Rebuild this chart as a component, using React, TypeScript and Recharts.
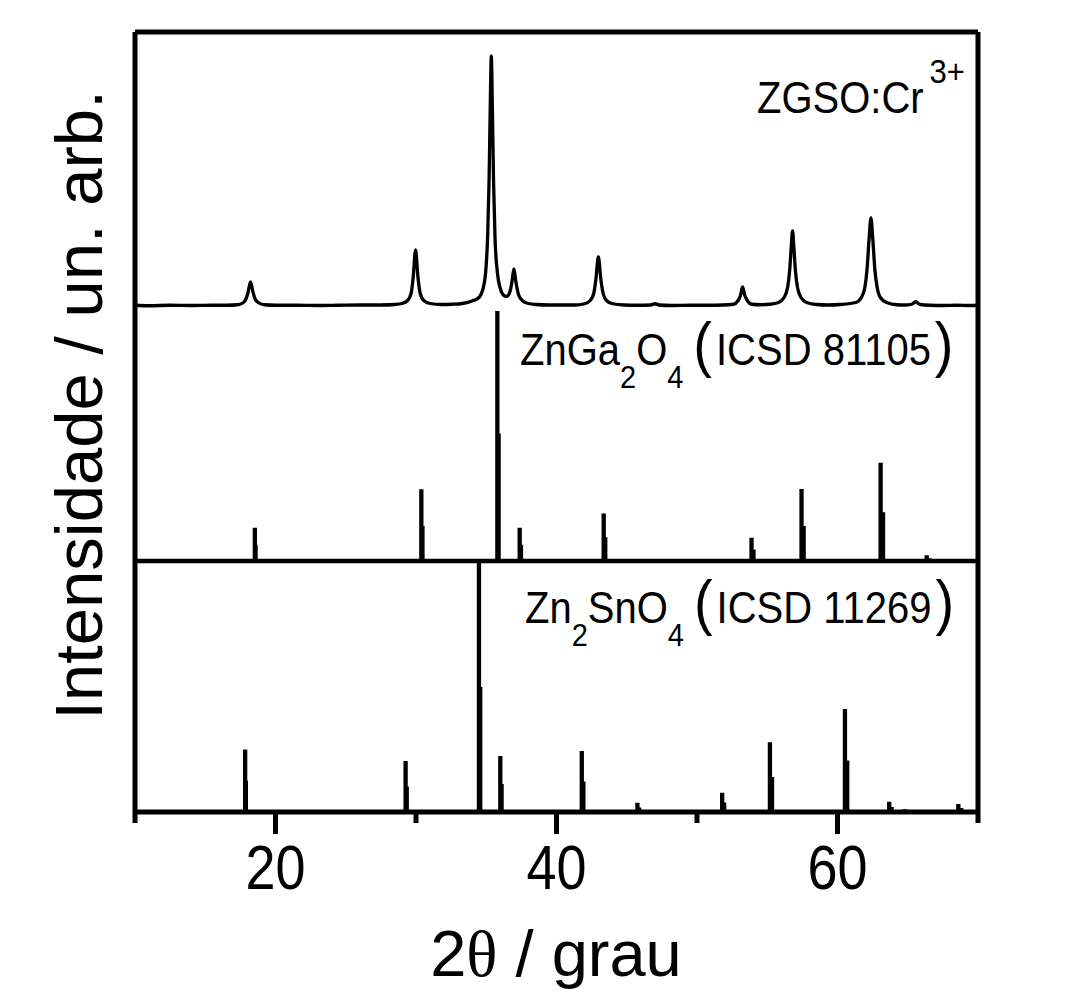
import React from "react";
import { ComposedChart, Line, XAxis, YAxis, ReferenceLine } from "recharts";

// ZGSO:Cr3+ measured pattern, [2theta, relative intensity]
const xrdPoints: [number, number][] = [
  [10, 0.3], [11, 0.1], [12.5, 0.3], [14, 0.2], [15.5, 0.3], [16.5, 0.3],
  [17.3, 0.5], [17.7, 1.3], [17.9, 2.8], [18.05, 5.5], [18.22, 9.6], [18.4, 5.5], [18.55, 2.8], [18.8, 1.3], [19.2, 0.5],
  [20, 0.3], [21.5, 0.3], [23, 0.2], [24.5, 0.3], [26, 0.4], [27.5, 0.4], [28.5, 0.6],
  [29.0, 1.0], [29.4, 2.2], [29.65, 5], [29.8, 11.5], [29.97, 22.4], [30.14, 11.5], [30.3, 5], [30.55, 2.2], [31.0, 1.0],
  [31.8, 0.6], [32.6, 0.7], [33.3, 1.0], [34.0, 2.0], [34.5, 3.5], [34.75, 6.5],
  [34.95, 13], [35.1, 28], [35.2, 50], [35.28, 78], [35.36, 100], [35.44, 78], [35.52, 50], [35.62, 28], [35.8, 13],
  [36.0, 7], [36.2, 4.5], [36.45, 3.8], [36.7, 6], [36.85, 10.5], [36.97, 14.8], [37.1, 10], [37.3, 4.5],
  [37.6, 2.0], [38.0, 1.0], [38.5, 0.6], [39.5, 0.4], [40.5, 0.4], [41.3, 0.4],
  [42.0, 0.9], [42.4, 2.2], [42.65, 5], [42.8, 10.5], [42.98, 19.6], [43.16, 10.5], [43.32, 5], [43.55, 2.2], [44.0, 0.9],
  [44.8, 0.4], [45.8, 0.3], [46.7, 0.4], [47.0, 0.9], [47.3, 0.4], [48.2, 0.2], [49.5, 0.3], [50.8, 0.3], [51.8, 0.4],
  [52.6, 0.7], [52.9, 2.0], [53.1, 4.3], [53.24, 7.6], [53.4, 4.3], [53.6, 2.0], [53.9, 0.7], [54.5, 0.5], [55.2, 0.7],
  [55.8, 1.4], [56.2, 3.4], [56.45, 7.5], [56.6, 14.5], [56.7, 23], [56.8, 30], [56.9, 23], [57.0, 14.5], [57.15, 7.5], [57.4, 3.4], [57.8, 1.4],
  [58.5, 0.6], [59.3, 0.4], [60.2, 0.6],
  [61.3, 1.4], [61.7, 3.4], [61.95, 7.5], [62.1, 14.5], [62.25, 27], [62.38, 35.2], [62.51, 27], [62.66, 14.5], [62.82, 7.5], [63.05, 3.4], [63.5, 1.4],
  [64.2, 0.5], [64.8, 0.4], [65.2, 0.6], [65.4, 1.1], [65.56, 1.7], [65.72, 1.1], [65.9, 0.6],
  [66.6, 0.3], [67.5, 0.2], [68.5, 0.3], [69.3, 0.2], [70, 0.3],
];

// ZnGa2O4 (ICSD 81105) reference reflections, K-alpha1 and K-alpha2
const gaAngle = [18.53, 30.38, 35.79, 37.38, 43.36, 47.47, 53.88, 57.44, 63.07, 66.35];
const gaIntensity = [13.3, 28.7, 100, 13.3, 19, 0.6, 9.3, 28.8, 39.3, 2.3];
const ga2Angle = [18.58, 30.46, 35.88, 37.47, 43.47, 47.59, 54.02, 57.59, 63.24, 66.54];
const ga2Intensity = [6.5, 14, 51, 6.5, 9.5, 0.3, 4.6, 14, 19.5, 1.1];

// Zn2SnO4 (ICSD 11269) reference reflections, K-alpha1 and K-alpha2
const snAngle = [17.84, 29.26, 34.48, 36.0, 41.8, 45.76, 51.79, 55.19, 60.53, 63.68, 64.8, 68.6];
const snIntensity = [25, 20.4, 100, 22.4, 24.4, 3.7, 7.7, 27.9, 41.2, 4.1, 1.1, 3.2];
const sn2Angle = [17.89, 29.34, 34.57, 36.09, 41.91, 45.88, 51.93, 55.34, 60.69, 63.85, 64.98, 68.8];
const sn2Intensity = [12.5, 10.2, 50, 11.2, 12.2, 1.8, 3.8, 14, 20.6, 2, 0.5, 1.6];

const xTicks = [10, 20, 30, 40, 50, 60, 70];
const majorTicks = [20, 40, 60];

// vertical stacking of the three panels
const snOffset = 0;
const gaOffset = 100.4;
const xrdOffset = 202.4;
const yMax = 312;

const FONT = "'Liberation Sans', Arial, sans-serif";

const sticks = (angles: number[], ints: number[], offset: number) => {
  const rows: { x: number; y: number | null }[] = [];
  angles.forEach((a, i) => {
    rows.push({ x: a, y: offset });
    rows.push({ x: a, y: offset + ints[i] });
    rows.push({ x: a, y: null });
  });
  return rows;
};

const xrdData = xrdPoints.map(([x, v]) => ({ x, y: xrdOffset + v }));
const stickSets = [
  sticks(gaAngle, gaIntensity, gaOffset),
  sticks(ga2Angle, ga2Intensity, gaOffset),
  sticks(snAngle, snIntensity, snOffset),
  sticks(sn2Angle, sn2Intensity, snOffset),
];

const XTick = (props: any) => {
  const { x, y, payload } = props;
  const major = majorTicks.includes(payload.value);
  return (
    <g>
      <line x1={x} x2={x} y1={y} y2={y + (major ? 22 : 11)} stroke="#000" strokeWidth={5} />
      {major && (
        <text
          transform={`translate(${x}, ${y + 77}) scale(1, 1.15)`}
          textAnchor="middle"
          fontSize={54}
          fontFamily={FONT}
          fill="#000"
        >
          {payload.value}
        </text>
      )}
    </g>
  );
};

const frame = { stroke: "#000", strokeWidth: 5 };

export default function App() {
  return (
    <div style={{ position: "absolute", left: 0, top: 0, width: 1073, height: 1007, background: "#fff" }}>
      <ComposedChart width={1073} height={1007} margin={{ top: 32, right: 95, left: 15, bottom: 0 }}>
        <XAxis
          type="number"
          dataKey="x"
          domain={[10, 70]}
          ticks={xTicks}
          allowDataOverflow
          height={195}
          tickSize={0}
          tickMargin={0}
          tickLine={false}
          tick={<XTick />}
          stroke="#000"
          strokeWidth={5}
          axisLine={frame}
        />
        <YAxis
          type="number"
          domain={[0, yMax]}
          allowDataOverflow
          width={120}
          tick={false}
          tickLine={false}
          stroke="#000"
          strokeWidth={5}
          axisLine={frame}
        />
        <ReferenceLine y={yMax} ifOverflow="visible" {...frame} />
        <ReferenceLine x={70} ifOverflow="visible" {...frame} />
        <ReferenceLine y={gaOffset} ifOverflow="visible" stroke="#000" strokeWidth={4.5} />
        <Line
          data={xrdData}
          dataKey="y"
          type="monotone"
          stroke="#000"
          strokeWidth={3.3}
          dot={false}
          isAnimationActive={false}
        />
        {stickSets.map((d, i) => (
          <Line
            key={i}
            data={d}
            dataKey="y"
            type="linear"
            stroke="#000"
            strokeWidth={4.3}
            dot={false}
            connectNulls={false}
            isAnimationActive={false}
          />
        ))}
      </ComposedChart>
      <svg
        width={1073}
        height={1007}
        style={{ position: "absolute", left: 0, top: 0, pointerEvents: "none" }}
        fontFamily={FONT}
        fill="#000"
      >
        <g transform="translate(757, 113) scale(1, 1.1)">
          <text x={0} y={0} fontSize={40}>
            ZGSO:Cr
            <tspan dx={6} dy={-27} fontSize={31}>3+</tspan>
          </text>
        </g>
        <g transform="translate(520, 365) scale(1, 1.1)">
          <text x={0} y={0} fontSize={40}>
            ZnGa
            <tspan dy={21} fontSize={29}>2</tspan>
            <tspan dy={-21}>O</tspan>
            <tspan dy={21} fontSize={29}>4</tspan>
            <tspan dx={10} dy={-21} fontSize={56}>(</tspan>
            <tspan dx={4}>ICSD 81105</tspan>
            <tspan dx={4} fontSize={56}>)</tspan>
          </text>
        </g>
        <g transform="translate(525, 623) scale(1, 1.1)">
          <text x={0} y={0} fontSize={40}>
            Zn
            <tspan dy={21} fontSize={29}>2</tspan>
            <tspan dy={-21}>SnO</tspan>
            <tspan dy={21} fontSize={29}>4</tspan>
            <tspan dx={10} dy={-21} fontSize={56}>(</tspan>
            <tspan dx={4}>ICSD 11269</tspan>
            <tspan dx={4} fontSize={56}>)</tspan>
          </text>
        </g>
        <text x={556} y={976} fontSize={65} textAnchor="middle">
          2<tspan fontFamily="'Liberation Serif', serif">θ</tspan> / grau
        </text>
        <text transform="translate(102, 405) rotate(-90)" fontSize={67} textAnchor="middle">
          Intensidade / un. arb.
        </text>
      </svg>
    </div>
  );
}
